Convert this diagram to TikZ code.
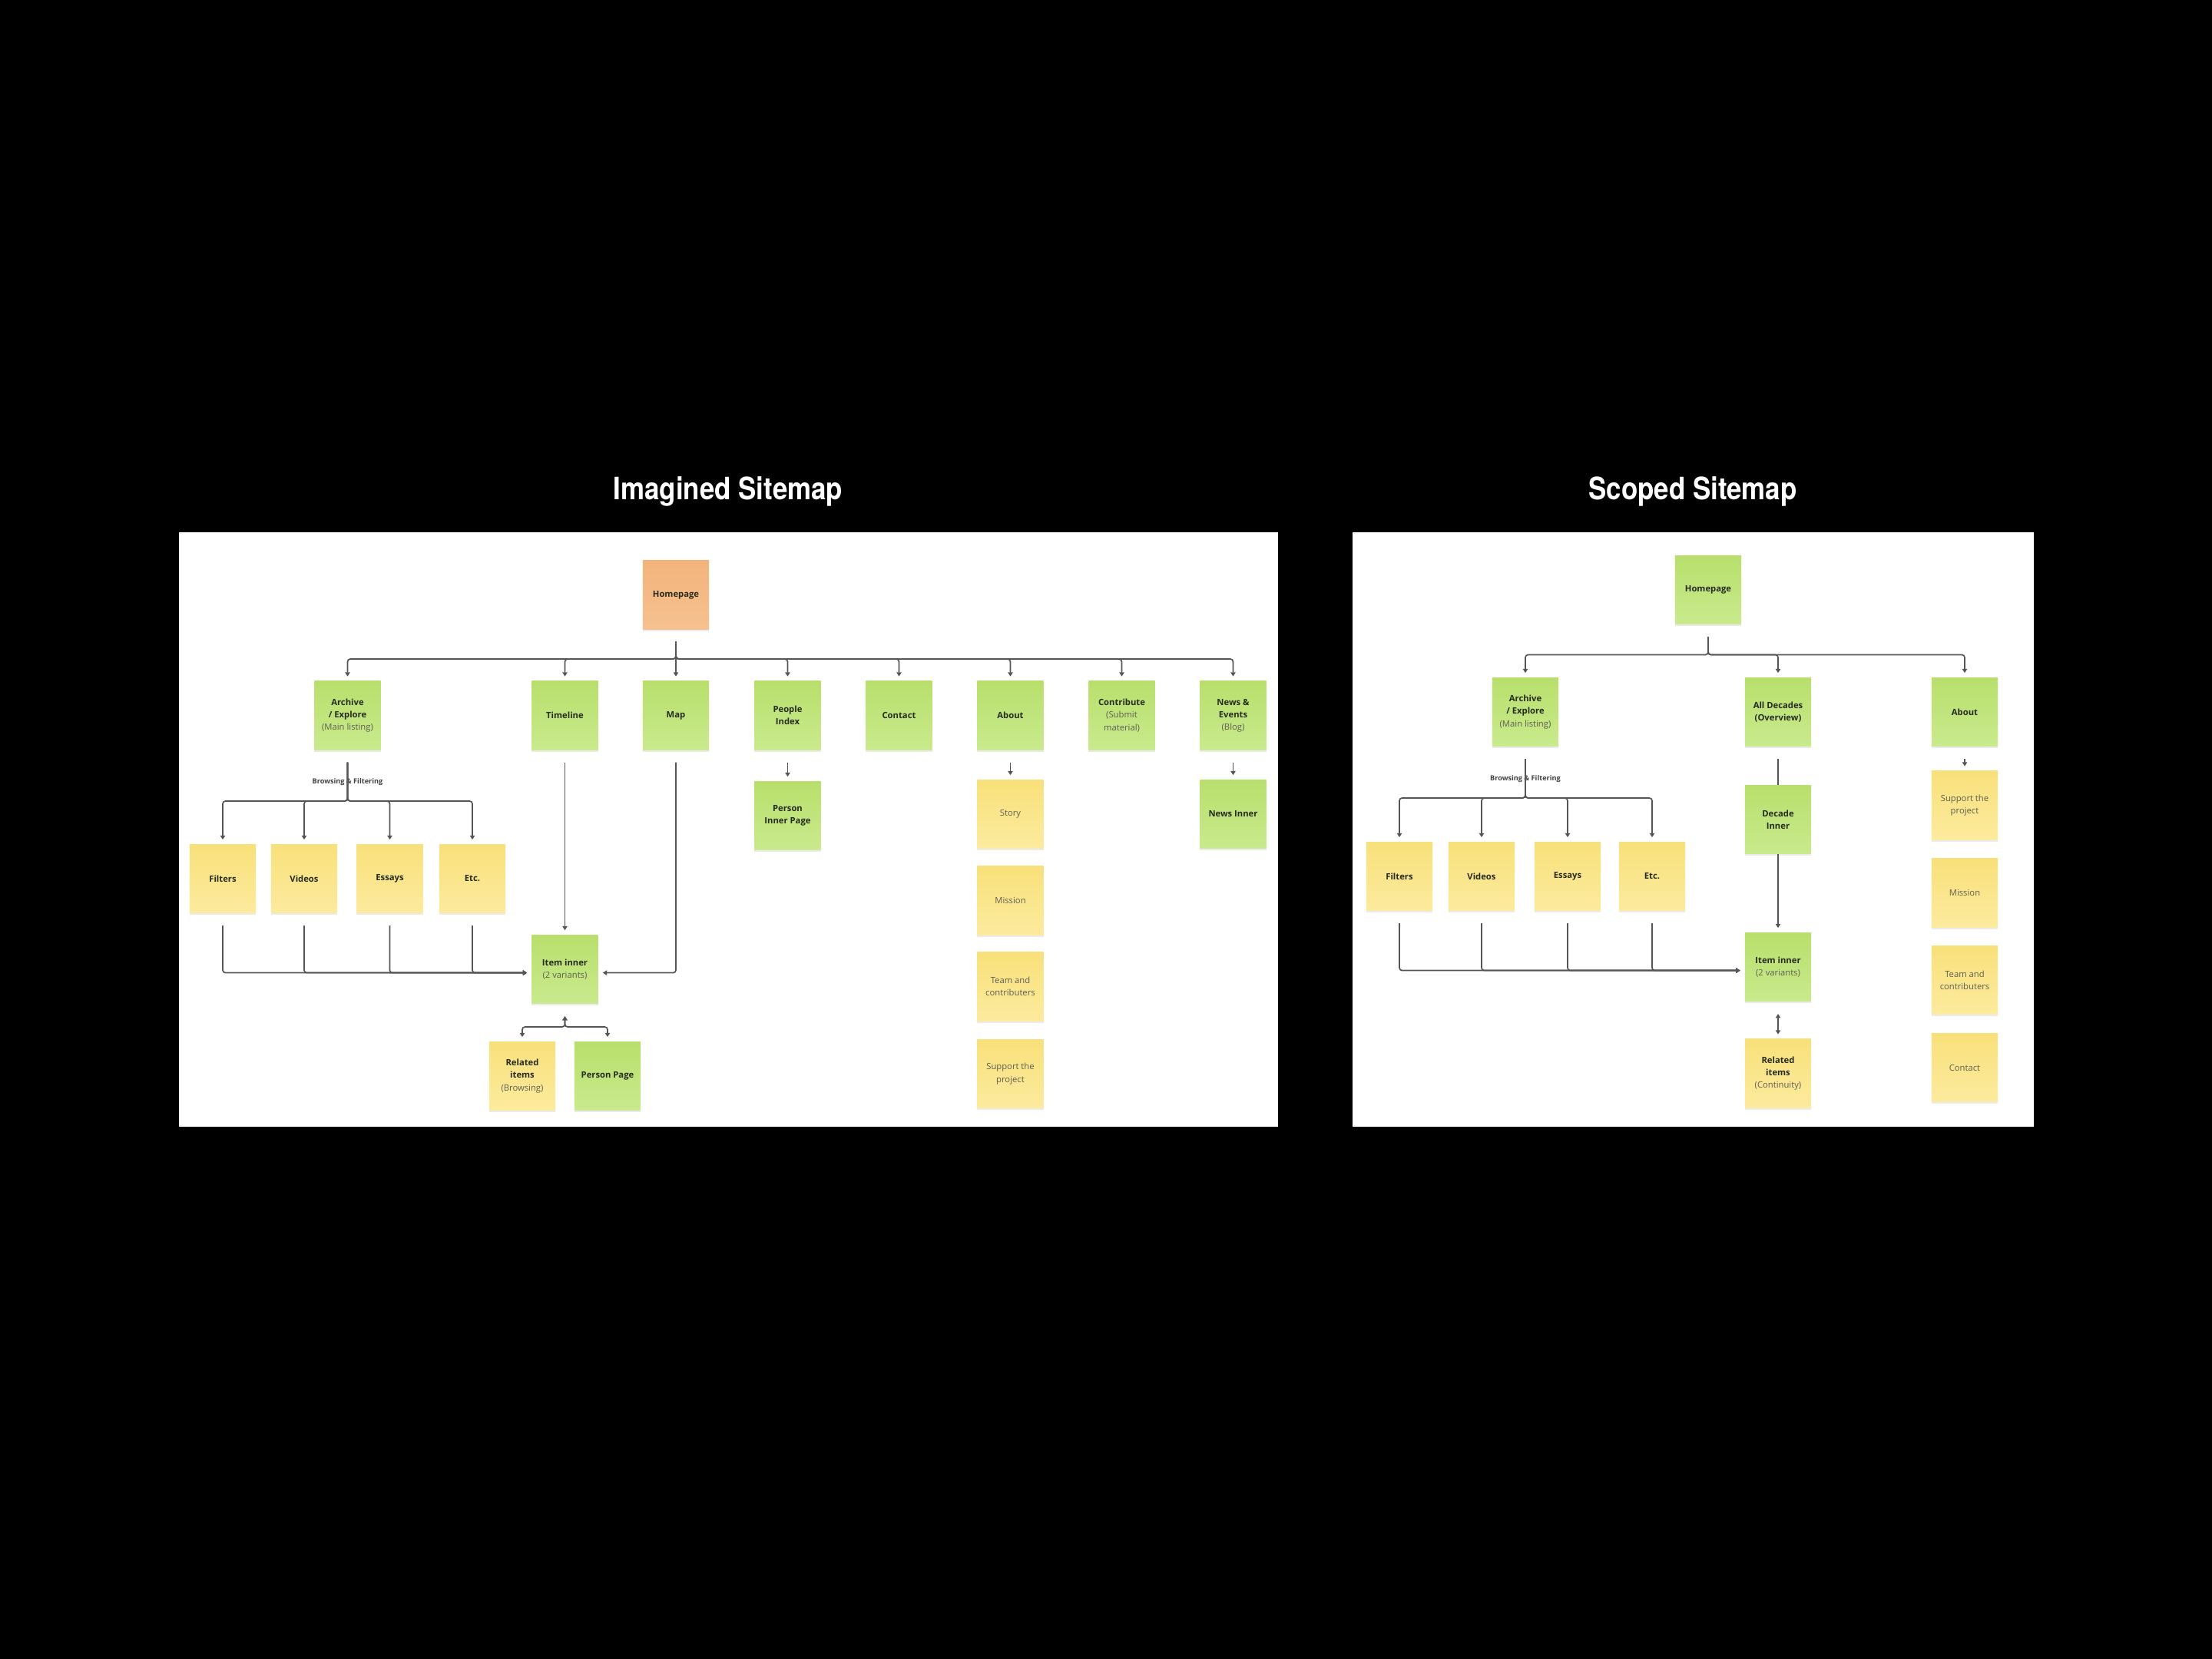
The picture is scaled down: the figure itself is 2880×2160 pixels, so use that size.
\documentclass[tikz,border=0pt]{standalone}
\usepackage{fontspec}
\setmainfont{Open Sans}
\newfontfamily\titlefont[FakeStretch=0.87]{TeX Gyre Heros}
\usetikzlibrary{arrows.meta,shadows}

\definecolor{greentop}{HTML}{B8DF6C}
\definecolor{greenbot}{HTML}{C9EA8D}
\definecolor{yeltop}{HTML}{F8E07A}
\definecolor{yelbot}{HTML}{FCEB9E}
\definecolor{ortop}{HTML}{F2B47B}
\definecolor{orbot}{HTML}{F6C190}
\definecolor{inkdark}{HTML}{272B1D}
\definecolor{subgrey}{HTML}{5E5E52}
\definecolor{wire}{HTML}{555555}

\newcommand{\notefont}{\fontsize{3.2pt}{4.6pt}\selectfont\bfseries}
\newcommand{\subtxt}[1]{{\mdseries\color{subgrey}#1}}

\begin{document}
\begin{tikzpicture}[x=0.01cm,y=-0.01cm,>={Triangle[length=1.5pt,width=1.8pt]},
  note/.style={minimum width=0.86cm,minimum height=0.89cm,inner sep=0pt,align=center,
    font=\notefont,text=inkdark,
    drop shadow={shadow xshift=0pt,shadow yshift=-0.8pt,opacity=0.08,fill=black}},
  greennote/.style={note,top color=greentop,bottom color=greenbot},
  yellownote/.style={note,top color=yeltop,bottom color=yelbot},
  orangenote/.style={note,top color=ortop,bottom color=orbot},
  conn/.style={draw=wire,line width=0.48pt,rounded corners=1pt,
    shorten <=4.5pt,shorten >=1.6pt,->},
  flowlabel/.style={font=\fontsize{2.6pt}{3pt}\selectfont\bfseries,text=black!75,inner sep=0pt},
  sitetitle/.style={font=\titlefont\fontsize{11.4pt}{13pt}\selectfont\bfseries,text=white,inner sep=0pt}]
\useasboundingbox (0,0) rectangle (2880,2160);
\fill[black] (0,0) rectangle (2880,2160);

% titles
\node[sitetitle,anchor=base] (ttlA) at (948,650) {Imagined Sitemap};
\node[sitetitle,anchor=base] (ttlB) at (2204,650) {Scoped Sitemap};

% imagined sitemap
\fill[white] (233,693) rectangle (1664,1467);
\node[orangenote] (home) at (880,774.5) {Homepage};
\node[greennote] (arch) at (452.5,931.5) {Archive\\/ Explore\\\subtxt{(Main listing)}};
\node[greennote] (time) at (735.5,931.5) {Timeline};
\node[greennote] (map) at (880,931.5) {Map};
\node[greennote] (people) at (1025.5,931.5) {People\\Index};
\node[greennote] (contact) at (1170.5,931.5) {Contact};
\node[greennote] (about) at (1315.5,931.5) {About};
\node[greennote] (contrib) at (1460.5,931.5) {Contribute\\\subtxt{(Submit}\\\subtxt{material)}};
\node[greennote] (news) at (1605.5,931.5) {News \&\\Events\\\subtxt{(Blog)}};
\node[yellownote] (filt) at (290,1144) {Filters};
\node[yellownote] (vid) at (396,1144) {Videos};
\node[yellownote] (ess) at (507.5,1144) {Essays};
\node[yellownote] (etc) at (615,1144) {Etc.};
\node[greennote] (item) at (735.5,1262) {Item inner\\\subtxt{(2 variants)}};
\node[yellownote] (rel) at (680,1401) {Related\\items\\\subtxt{(Browsing)}};
\node[greennote] (pers) at (791,1401) {Person Page};
\node[greennote] (pinner) at (1025.5,1062) {Person\\Inner Page};
\node[yellownote] (story) at (1315.5,1060) {\subtxt{Story}};
\node[yellownote] (mission) at (1315.5,1172.5) {\subtxt{Mission}};
\node[yellownote] (team) at (1315.5,1284.5) {\subtxt{Team and}\\\subtxt{contributers}};
\node[yellownote] (support) at (1315.5,1398) {\subtxt{Support the}\\\subtxt{project}};
\node[greennote] (newsin) at (1605.5,1060) {News Inner};
\node[flowlabel] (browse) at (452.5,1018) {Browsing \& Filtering};
\coordinate (bus1) at (880,858);
\coordinate (bus2) at (452.5,1043);
\coordinate (bus3) at (735.5,1337);

\foreach \c in {arch,time,people,contact,about,contrib,news}
  \draw[conn] (home.south) |- (bus1 -| \c.north) -- (\c.north);
\draw[conn] (home.south) -- (map.north);
\foreach \c in {filt,vid,ess,etc} {
  \draw[conn] (arch.south) |- (bus2 -| \c.north) -- (\c.north);
  \draw[conn] (\c.south) |- ([yshift=-1.3pt]item.west);
}
\draw[conn] (time.south) -- (item.north);
\draw[conn] (map.south) |- ([yshift=-1.3pt]item.east);
\foreach \c in {rel,pers}
  \draw[conn,<->] (item.south) |- (bus3 -| \c.north) -- (\c.north);
\draw[conn] (people.south) -- (pinner.north);
\draw[conn] (about.south) -- (story.north);
\draw[conn] (news.south) -- (newsin.north);

% scoped sitemap
\fill[white] (1761,693) rectangle (2648,1467);
\node[greennote] (rhome) at (2224,768) {Homepage};
\node[greennote] (rarch) at (1986,927) {Archive\\/ Explore\\\subtxt{(Main listing)}};
\node[greennote] (rdec) at (2315,927) {All Decades\\(Overview)};
\node[greennote] (rabout) at (2558,927) {About};
\node[greennote] (rdecin) at (2315,1067) {Decade\\Inner};
\node[yellownote] (rfilt) at (1822,1141) {Filters};
\node[yellownote] (rvid) at (1929,1141) {Videos};
\node[yellownote] (ress) at (2041,1141) {Essays};
\node[yellownote] (retc) at (2151,1141) {Etc.};
\node[greennote] (ritem) at (2315,1259) {Item inner\\\subtxt{(2 variants)}};
\node[yellownote] (rrel) at (2315,1397.5) {Related\\items\\\subtxt{(Continuity)}};
\node[yellownote] (rsupport) at (2558,1048.5) {\subtxt{Support the}\\\subtxt{project}};
\node[yellownote] (rmission) at (2558,1162.5) {\subtxt{Mission}};
\node[yellownote] (rteam) at (2558,1276) {\subtxt{Team and}\\\subtxt{contributers}};
\node[yellownote] (rcontact) at (2558,1390) {\subtxt{Contact}};
\node[flowlabel] (rbrowse) at (1986,1014) {Browsing \& Filtering};
\coordinate (rbus1) at (2224,852.5);
\coordinate (rbus2) at (1986,1039);

\foreach \c in {rarch,rdec,rabout}
  \draw[conn] (rhome.south) |- (rbus1 -| \c.north) -- (\c.north);
\foreach \c in {rfilt,rvid,ress,retc} {
  \draw[conn] (rarch.south) |- (rbus2 -| \c.north) -- (\c.north);
  \draw[conn] (\c.south) |- ([yshift=-1.3pt]ritem.west);
}
\draw[conn,-,shorten >=0pt] (rdec.south) -- (rdecin.north);
\draw[conn,shorten <=0pt] (rdecin.south) -- (ritem.north);
\draw[conn,<->] (ritem.south) -- (rrel.north);
\draw[conn] (rabout.south) -- (rsupport.north);
\end{tikzpicture}
\end{document}
